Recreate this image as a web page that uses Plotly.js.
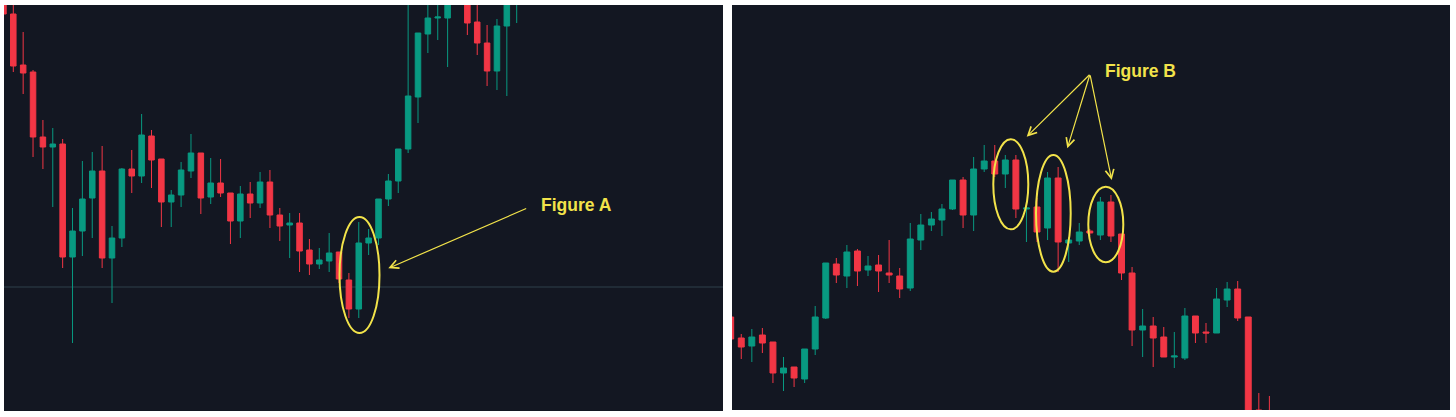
<!DOCTYPE html>
<html>
<head>
<meta charset="utf-8">
<script src="https://cdn.plot.ly/plotly-3.0.1.min.js"></script>
<style>
  html, body { margin: 0; padding: 0; background: #ffffff; }
  #chart { width: 1456px; height: 417px; }
</style>
</head>
<body>
<div id="chart"></div>
<script>
// ---- Left panel (Figure A) candles ----
const leftOpen  = [425,403,352,345,280,270,273,160,186,219,246,159,179,248,241,281,258,215,222,246,264,220,234,224,196,223,214,235,202,192,194,167,153,156,165,137,108,174,179,218,236,268,320,383,399,399,418,424,395,374,346,391,420];
const leftHigh  = [430,415,385,347,297,289,278,209,256,265,271,191,249,267,303,287,258,227,255,283,264,259,258,224,231,235,245,247,209,204,204,178,169,184,165,144,195,188,218,243,268,425,384,414,416,424,440,430,414,392,398,425,440];
const leftLow   = [401,345,323,260,248,210,149,74,161,179,149,114,170,224,234,229,190,190,210,239,203,213,220,173,179,199,209,189,176,159,145,142,148,145,134,99,99,162,172,211,224,264,294,364,377,350,414,382,362,331,327,321,394];
const leftClose = [403,351,344,280,270,273,160,186,218,246,159,179,248,241,282,257,215,222,247,264,219,234,224,196,223,214,235,202,191,194,166,153,157,164,138,108,174,179,218,236,268,321,384,399,400,418,430,394,374,346,391,418,430];
const leftPriceLine = 130;

// ---- Right panel (Figure B) candles ----
const rightOpen  = [100,79,71,82,75,44,50,38,68,99,153,141,166,147,152,144,141,129,177,192,197,208,237,202,248,256,243,257,208,210,189,239,174,176,186,182,215,183,144,87,91,80,60,59,101,85,84,117,128,100,7,4];
const rightHigh  = [104,83,88,89,75,60,50,68,111,154,159,172,168,161,162,177,149,194,203,205,213,237,240,260,272,272,262,262,209,219,245,250,180,194,188,220,222,183,150,108,100,90,85,109,101,94,129,135,136,100,24,21];
const rightLow   = [72,58,55,64,34,26,30,34,62,98,134,129,131,141,125,134,119,126,167,186,181,207,189,186,245,240,229,199,175,175,177,145,155,172,181,177,175,137,71,60,50,60,49,57,74,74,84,110,96,-5,-10,-10];
const rightClose = [78,70,80,74,44,49,39,68,100,154,142,165,146,151,146,142,128,178,192,198,208,237,202,248,256,243,257,208,209,185,239,175,177,185,184,215,181,144,87,91,79,60,61,101,84,84,118,128,99,0,-5,-6];

const labelA = 'Figure A';
const labelB = 'Figure B';

// ---- styling ----
const UP = '#089981', DOWN = '#f23645', BG = '#131722', YEL = '#f2e34a';
const W = 1456, H = 417;
const px = v => v / W;
const py = v => 1 - v / H;

function idx(n) { const a = []; for (let i = 0; i < n; i++) a.push(i); return a; }

function candle(o, h, l, c, xa, ya) {
  return {
    type: 'candlestick', x: idx(o.length), open: o, high: h, low: l, close: c,
    xaxis: xa, yaxis: ya, hoverinfo: 'none', whiskerwidth: 0,
    increasing: { line: { color: UP, width: 1 }, fillcolor: UP },
    decreasing: { line: { color: DOWN, width: 1 }, fillcolor: DOWN },
    showlegend: false
  };
}

const data = [
  candle(leftOpen, leftHigh, leftLow, leftClose, 'x', 'y'),
  candle(rightOpen, rightHigh, rightLow, rightClose, 'x2', 'y2')
];

const axHidden = { showgrid: false, zeroline: false, showticklabels: false, ticks: '', showline: false, fixedrange: true };

function ellipse(x0, x1, y0, y1) {
  return { type: 'circle', xref: 'paper', yref: 'paper', x0: px(x0), x1: px(x1), y0: py(y1), y1: py(y0),
           line: { color: YEL, width: 2 }, fillcolor: 'rgba(0,0,0,0)', layer: 'above' };
}

function arrow(hx, hy, tx, ty) {
  return { xref: 'paper', yref: 'paper', x: px(hx), y: py(hy), axref: 'pixel', ayref: 'pixel',
           ax: tx - hx, ay: ty - hy, text: ' ', font: { size: 1 }, borderpad: 0,
           showarrow: true, arrowhead: 5, arrowsize: 1.4, arrowwidth: 1.2, arrowcolor: YEL, standoff: 0 };
}

const layout = {
  width: W, height: H,
  margin: { l: 0, r: 0, t: 0, b: 0, pad: 0 },
  paper_bgcolor: '#ffffff', plot_bgcolor: BG,
  boxgap: 0.2,
  showlegend: false,
  dragmode: false,
  xaxis:  Object.assign({ domain: [px(4), px(723)], range: [0.058, 72.9], anchor: 'y', rangeslider: { visible: false } }, axHidden),
  yaxis:  Object.assign({ domain: [py(411), py(5)], range: [6, 412], anchor: 'x' }, axHidden),
  xaxis2: Object.assign({ domain: [px(732), px(1450)], range: [0.123, 68.1], anchor: 'y2', rangeslider: { visible: false } }, axHidden),
  yaxis2: Object.assign({ domain: [py(410), py(5)], range: [7, 412], anchor: 'x2' }, axHidden),
  shapes: [
    { type: 'line', xref: 'x domain', yref: 'y', x0: 0, x1: 1, y0: leftPriceLine, y1: leftPriceLine,
      line: { color: 'rgba(70,100,110,0.55)', width: 1 }, layer: 'below' },
    ellipse(339.5, 379.5, 217, 333),
    ellipse(993.3, 1028.3, 139.3, 229.3),
    ellipse(1036, 1070.7, 155, 271.7),
    ellipse(1088.3, 1123.3, 186.7, 262.3)
  ],
  annotations: [
    { xref: 'paper', yref: 'paper', x: px(539), y: py(205), xanchor: 'left', yanchor: 'middle', showarrow: false,
      text: labelA, font: { family: 'Liberation Sans, Arial, sans-serif', size: 17.5, color: YEL, weight: 700 } },
    { xref: 'paper', yref: 'paper', x: px(1103), y: py(71), xanchor: 'left', yanchor: 'middle', showarrow: false,
      text: labelB, font: { family: 'Liberation Sans, Arial, sans-serif', size: 17.5, color: YEL, weight: 700 } },
    arrow(388.3, 268.3, 526.7, 208.3),
    arrow(1026.7, 136.7, 1090, 74.3),
    arrow(1067.3, 148.3, 1090, 74.3),
    arrow(1111.7, 180, 1090, 74.3)
  ]
};

Plotly.newPlot('chart', data, layout, { staticPlot: true, displayModeBar: false });
</script>
</body>
</html>
